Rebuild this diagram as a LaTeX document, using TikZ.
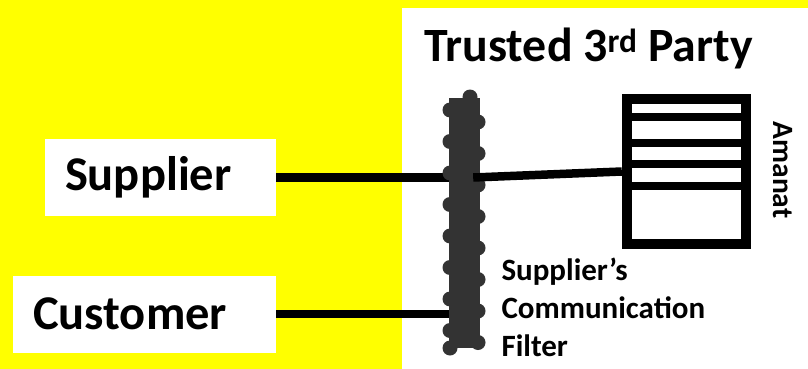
\documentclass[tikz,border=0pt]{standalone}
\usepackage{fontspec}
\setmainfont{Carlito}
\usetikzlibrary{positioning, calc}
\definecolor{padyellow}{RGB}{255,255,0}
\definecolor{filtergray}{RGB}{51,51,51}

\begin{document}
\begin{tikzpicture}[x=1pt, y=-1pt,
  namebox/.style={fill=white, inner xsep=20pt, text width=#1, align=left, minimum height=77pt, font=\fontsize{48.5}{50}\selectfont\bfseries},
  wire/.style={line width=8.5pt},
  every node/.style={font=\bfseries}]
\fill[padyellow] (0,0) rectangle (808,369);
\useasboundingbox (0,0) rectangle (808,369);
\fill[white] (402,8) rectangle (808,369);
\node[anchor=base west, font=\fontsize{47.8}{50}\selectfont\bfseries] (ttp) at (421,62) {Trusted 3\textsuperscript{rd} Party};
\node[namebox=191pt] (supplier) at (160.5,177.5) {Supplier};
\node[namebox=223pt] (customer) at (144.5,314) {Customer};
\node[fill=filtergray, minimum width=31pt, minimum height=250pt, inner sep=0pt] (filter) at (464.5,223) {};
\draw[line width=10pt, fill=white] (627,99) rectangle (746,244);
\node[minimum width=129pt, minimum height=155pt, inner sep=0pt] (amanat) at (686.5,171.5) {};
% ledger lines
\foreach \y in {117,143,164,186} { \draw[line width=8pt] (632,\y) -- (741,\y); }
\node[rotate=-90, font=\fontsize{29.5}{30}\selectfont\bfseries] (amanatlab) at (783,170) {Amanat};
\draw[wire] (supplier.east) -- (supplier.east -| filter.west);
\draw[wire] (customer.east) -- (customer.east -| filter.west);
\foreach \i in {0,...,7} { \fill[filtergray] (450,110+31.5*\i) circle (7.5pt); \fill[filtergray] (478,122+31.5*\i) circle (7.5pt); }
\fill[filtergray] (450,348) circle (7.5pt); \fill[filtergray] (470,97) circle (7.5pt);
\draw[wire] ([xshift=-7pt]filter.east |- supplier.east) -- (amanat.west);
\node[anchor=base west, align=left, font=\fontsize{31}{38}\selectfont\bfseries] (filterlab) at (498,356) {Supplier's\\Communication\\Filter};
\end{tikzpicture}
\end{document}
